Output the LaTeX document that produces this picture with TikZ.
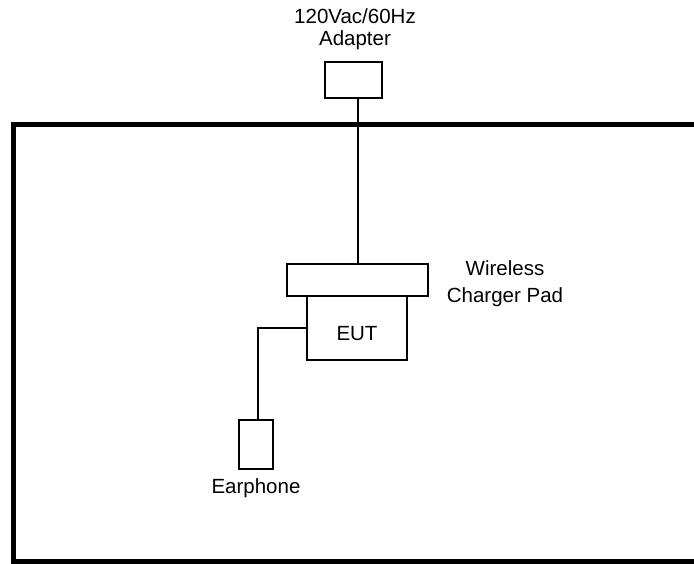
\documentclass[tikz,border=0pt]{standalone}
\usepackage{fontspec}
\setmainfont{Liberation Sans}
\usetikzlibrary{positioning}

\begin{document}
\begin{tikzpicture}[x=1pt, y=-1pt,
    box/.style={draw, line width=2pt, inner sep=0pt, anchor=center},
    lbl/.style={font=\fontsize{20.5}{26}\selectfont, align=center, inner sep=0pt},
    wire/.style={line width=2pt}]
    \useasboundingbox (0,0) rectangle (694,563);
    \clip (0,0) rectangle (694,563);

    % test site outline (runs off the page)
    \draw[line width=5pt] (710,124.5) -- (13,124.5) -- (13,561) -- (710,561);

    % Adapter
    \node[box, minimum width=57pt, minimum height=36pt] (adapter) at (353.5,80) {};
    \node[lbl, font=\fontsize{20.5}{22}\selectfont] (adapterlbl) at (355,29) {120Vac/60Hz\\Adapter};

    % Charger pad and EUT
    \node[box, minimum width=141pt, minimum height=32pt] (pad) at (357.5,280) {};
    \node[box, minimum width=100pt, minimum height=64pt, text height=24pt, text depth=0pt, font=\fontsize{20.5}{24}\selectfont] (eut) at (357,328) {EUT};
    \node[lbl, font=\fontsize{20.5}{27}\selectfont] (padlbl) at (505,284) {Wireless\\Charger Pad};

    % Earphone
    \node[box, minimum width=34pt, minimum height=49pt] (ear) at (256,444.5) {};
    \node[lbl, below=8pt of ear] (earlbl) {Earphone};

    % Cables
    \draw[wire] (pad.north) -- (pad.north |- adapter.south);
    \draw[wire] (eut.west) -| ([xshift=2pt]ear.north);

\end{tikzpicture}
\end{document}
